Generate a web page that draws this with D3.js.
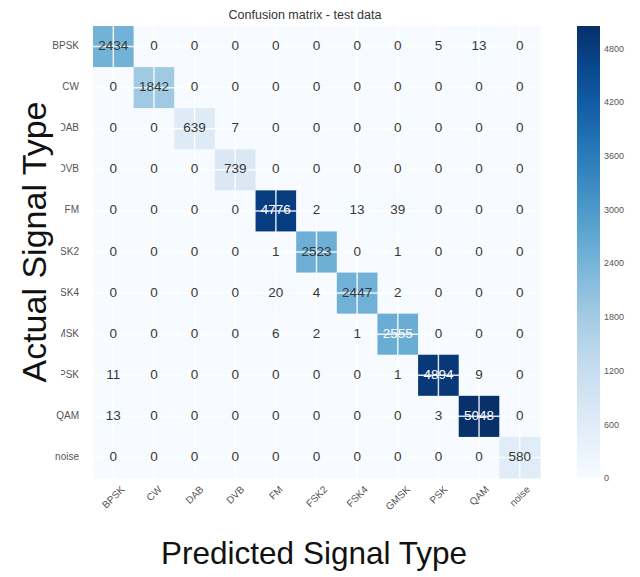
<!DOCTYPE html>
<html>
<head>
<meta charset="utf-8">
<script src="https://cdn.jsdelivr.net/npm/d3@7"></script>
<style>
  body { margin: 0; background: #fff; }
  svg { display: block; font-family: "Liberation Sans", Arial, sans-serif; }
</style>
</head>
<body>
<svg id="chart" width="640" height="577"></svg>
<script>
const classes = ["BPSK", "CW", "DAB", "DVB", "FM", "FSK2", "FSK4", "GMSK", "PSK", "QAM", "noise"];
const rowBPSK  = [2434, 0, 0, 0, 0, 0, 0, 0, 5, 13, 0];
const rowCW    = [0, 1842, 0, 0, 0, 0, 0, 0, 0, 0, 0];
const rowDAB   = [0, 0, 639, 7, 0, 0, 0, 0, 0, 0, 0];
const rowDVB   = [0, 0, 0, 739, 0, 0, 0, 0, 0, 0, 0];
const rowFM    = [0, 0, 0, 0, 4776, 2, 13, 39, 0, 0, 0];
const rowFSK2  = [0, 0, 0, 0, 1, 2523, 0, 1, 0, 0, 0];
const rowFSK4  = [0, 0, 0, 0, 20, 4, 2447, 2, 0, 0, 0];
const rowGMSK  = [0, 0, 0, 0, 6, 2, 1, 2555, 0, 0, 0];
const rowPSK   = [11, 0, 0, 0, 0, 0, 0, 1, 4894, 9, 0];
const rowQAM   = [13, 0, 0, 0, 0, 0, 0, 0, 3, 5048, 0];
const rowNoise = [0, 0, 0, 0, 0, 0, 0, 0, 0, 0, 580];
const matrix = [rowBPSK, rowCW, rowDAB, rowDVB, rowFM, rowFSK2, rowFSK4, rowGMSK, rowPSK, rowQAM, rowNoise];
const colorbarTicks = [0, 600, 1200, 1800, 2400, 3000, 3600, 4200, 4800];
const titleText = "Confusion matrix - test data";
const xTitle = "Predicted Signal Type";
const yTitle = "Actual Signal Type";

const svg = d3.select("#chart");
const L = 93, R = 540, T = 26, B = 478;

const x = d3.scaleBand().domain(d3.range(classes.length)).range([L, R]);
const y = d3.scaleBand().domain(d3.range(classes.length)).range([T, B]);
const vmax = d3.max(matrix.flat());
const color = d3.scaleSequential(d3.interpolateBlues).domain([0, vmax]);
const thresh = vmax / 2;

const cells = [];
matrix.forEach((row, i) => row.forEach((v, j) => cells.push({i, j, v})));

// cells
svg.append("g").selectAll("rect").data(cells).join("rect")
  .attr("x", d => x(d.j)).attr("y", d => y(d.i))
  .attr("width", x.bandwidth() + 0.5).attr("height", y.bandwidth() + 0.5)
  .attr("fill", d => color(d.v));

// white grid lines at tick centres
const grid = svg.append("g").attr("stroke", "#ffffff").attr("stroke-width", 1.5).attr("opacity", 0.85);
d3.range(classes.length).forEach(k => {
  const cx = x(k) + x.bandwidth() / 2;
  const cy = y(k) + y.bandwidth() / 2;
  grid.append("line").attr("x1", cx).attr("x2", cx).attr("y1", T).attr("y2", B);
  grid.append("line").attr("x1", L).attr("x2", R).attr("y1", cy).attr("y2", cy);
});

// numbers
svg.append("g").selectAll("text").data(cells).join("text")
  .attr("x", d => x(d.j) + x.bandwidth() / 2)
  .attr("y", d => y(d.i) + y.bandwidth() / 2 - 1)
  .attr("text-anchor", "middle").attr("dominant-baseline", "central")
  .attr("font-size", 13.5)
  .attr("fill", d => d.v > thresh ? "#ffffff" : "#383838")
  .text(d => d.v);

// y tick labels
svg.append("g").selectAll("text").data(classes).join("text")
  .attr("x", 79).attr("y", (d, i) => y(i) + y.bandwidth() / 2 - 1)
  .attr("text-anchor", "end").attr("dominant-baseline", "central")
  .attr("font-size", 10).attr("fill", "#555")
  .text(d => d);

// x tick labels rotated 45, centred under columns
const xl = svg.append("g").selectAll("text").data(classes).join("text")
  .attr("text-anchor", "middle").attr("dominant-baseline", "central")
  .attr("font-size", 10).attr("fill", "#555")
  .text(d => d);
xl.each(function(d, i) {
  const w = this.getComputedTextLength();
  const half = (w + 10) * Math.SQRT1_2 / 2;
  const cx = x(i) + x.bandwidth() / 2;
  const cy = B + 6 + half;
  d3.select(this).attr("transform", `translate(${cx},${cy}) rotate(-45)`);
});

// title
svg.append("text").attr("x", 305).attr("y", 19)
  .attr("text-anchor", "middle").attr("font-size", 12.5).attr("fill", "#333")
  .text(titleText);

// colorbar
const cbX = 577, cbW = 23;
const cbY = d3.scaleLinear().domain([0, vmax]).range([B, T]);
const defs = svg.append("defs");
const grad = defs.append("linearGradient").attr("id", "cbgrad")
  .attr("x1", 0).attr("y1", 1).attr("x2", 0).attr("y2", 0);
d3.range(0, 1.0001, 0.05).forEach(t => {
  grad.append("stop").attr("offset", t).attr("stop-color", color(t * vmax));
});
svg.append("rect").attr("x", cbX).attr("y", T).attr("width", cbW).attr("height", B - T)
  .attr("fill", "url(#cbgrad)");
const cbAxis = svg.append("g").attr("transform", `translate(${cbX + cbW},0)`)
  .call(d3.axisRight(cbY).tickValues(colorbarTicks).tickSize(0).tickPadding(4).tickFormat(d3.format("d")));
cbAxis.select(".domain").remove();
cbAxis.selectAll("text").attr("font-size", 9).attr("fill", "#555")
  .attr("font-family", "'Liberation Sans', Arial, sans-serif");

// axis titles
const yt = svg.append("g").attr("transform", "translate(34,242) rotate(-90)");
const ytText = yt.append("text").attr("text-anchor", "middle").attr("dominant-baseline", "central")
  .attr("font-size", 34).attr("fill", "#111").text(yTitle);
const bb = ytText.node().getBBox();
yt.insert("rect", "text").attr("x", bb.x - 6).attr("y", -26).attr("width", bb.width + 12).attr("height", 53)
  .attr("fill", "#ffffff");

svg.append("text").attr("x", 314).attr("y", 553)
  .attr("text-anchor", "middle").attr("dominant-baseline", "central")
  .attr("font-size", 31.5).attr("fill", "#111").text(xTitle);
</script>
</body>
</html>
